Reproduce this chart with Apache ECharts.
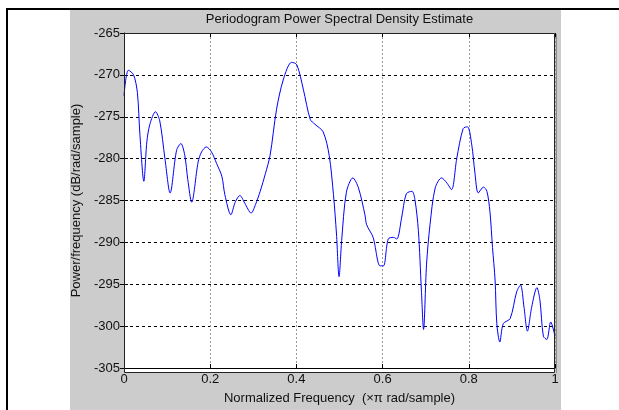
<!DOCTYPE html>
<html>
<head>
<meta charset="utf-8">
<script src="https://cdn.jsdelivr.net/npm/echarts@6/dist/echarts.min.js"></script>
<style>
  html, body { margin: 0; padding: 0; background: #ffffff; }
  #chart { width: 619px; height: 410px; }
</style>
</head>
<body>
<div id="chart"></div>
<script>
// Normalized frequency (x pi rad/sample)
var freq = [
  0.000, 0.010, 0.022, 0.031, 0.037, 0.046, 0.053, 0.060, 0.073, 0.083,
  0.095, 0.107, 0.122, 0.132, 0.141, 0.148, 0.157, 0.172, 0.180, 0.191,
  0.203, 0.215, 0.227, 0.234, 0.248, 0.258, 0.269, 0.280, 0.295, 0.305,
  0.316, 0.328, 0.339, 0.354, 0.370, 0.389, 0.401, 0.416, 0.432, 0.443,
  0.462, 0.476, 0.486, 0.493, 0.499, 0.505, 0.516, 0.531, 0.544, 0.559,
  0.563, 0.578, 0.594, 0.602, 0.613, 0.625, 0.633, 0.644, 0.655, 0.668,
  0.675, 0.683, 0.690, 0.695, 0.702, 0.710, 0.722, 0.737, 0.749, 0.760,
  0.772, 0.787, 0.797, 0.807, 0.814, 0.822, 0.834, 0.842, 0.849, 0.855,
  0.861, 0.865, 0.872, 0.880, 0.896, 0.911, 0.920, 0.928, 0.936, 0.946,
  0.958, 0.965, 0.973, 0.981, 0.990, 1.000
];
// Power/frequency (dB/rad/sample)
var psd = [
  -272.5, -269.45, -269.96, -272.1, -277.2, -282.7, -278.0, -275.9, -274.4, -275.5,
  -280.0, -284.1, -279.0, -278.2, -279.6, -282.5, -285.2, -280.4, -279.2, -278.6,
  -279.2, -280.6, -282.1, -284.3, -286.7, -285.2, -284.4, -285.3, -286.5, -285.5,
  -283.9, -281.8, -279.6, -274.1, -270.5, -268.5, -268.8, -271.7, -275.3, -275.9,
  -276.8, -279.6, -284.3, -289.0, -294.1, -289.8, -284.0, -282.3, -283.5, -286.7,
  -287.9, -289.4, -292.8, -292.8, -289.6, -289.4, -289.6, -287.1, -284.2, -283.9,
  -284.9, -288.6, -295.7, -300.4, -292.6, -287.9, -283.5, -282.3, -282.9, -283.7,
  -280.0, -276.4, -276.2, -278.4, -281.6, -284.1, -283.4, -283.9, -286.3, -290.6,
  -294.5, -299.7, -301.9, -299.7, -299.1, -295.9, -295.1, -297.7, -300.6, -297.7,
  -295.4, -296.9, -301.2, -301.6, -299.5, -301.2
];
var xTicks = [0, 0.2, 0.4, 0.6, 0.8, 1];
var yTicks = [-305, -300, -295, -290, -285, -280, -275, -270, -265];

var titleText = 'Periodogram Power Spectral Density Estimate';
var xName = 'Normalized Frequency  (\u00d7\u03c0 rad/sample)';
var yName = 'Power/frequency (dB/rad/sample)';

var FONT = '"Liberation Sans", Arial, sans-serif';
var points = freq.map(function (f, i) { return [f, psd[i]]; });

var chart = echarts.init(document.getElementById('chart'), null, { renderer: 'canvas' });

// plot box edges in pixels
var PL = 124, PT = 33, PR = 555, PB = 372;

var option = {
  backgroundColor: '#ffffff',
  animation: false,
  grid: { left: PL, top: PT, width: PR - PL, height: PB - PT, containLabel: false },
  graphic: [
    // figure panel
    { type: 'rect', z: -10, silent: true,
      shape: { x: 70, y: 10, width: 491, height: 400 },
      style: { fill: '#cccccc' } },
    // page frame lines
    { type: 'line', z: -5, silent: true,
      shape: { x1: 6, y1: 9, x2: 619, y2: 9 },
      style: { stroke: '#000', lineWidth: 2 } },
    { type: 'line', z: -5, silent: true,
      shape: { x1: 7, y1: 8, x2: 7, y2: 410 },
      style: { stroke: '#000', lineWidth: 2 } },
    // plot area
    { type: 'rect', z: -8, silent: true,
      shape: { x: PL, y: PT, width: PR - PL, height: PB - PT },
      style: { fill: '#ffffff' } },
    // box shadow on the right edge
    { type: 'line', z: 5, silent: true,
      shape: { x1: PR + 1.5, y1: PT + 1, x2: PR + 1.5, y2: PB + 1 },
      style: { stroke: '#8a8a8a', lineWidth: 1 } },
    // box outline
    { type: 'rect', z: 6, silent: true,
      shape: { x: PL + 0.5, y: PT + 0.5, width: PR - PL - 1, height: PB - PT },
      style: { fill: null, stroke: '#222', lineWidth: 1 } },
    // title, centred over the plot box
    { type: 'text', z: 10, silent: true,
      x: (PL + PR) / 2, y: 19,
      style: { text: titleText, font: '13px ' + FONT, fill: '#111',
               textAlign: 'center', textVerticalAlign: 'middle' } }
  ],
  xAxis: [{
    type: 'value', min: 0, max: 1, interval: 0.2,
    name: xName, nameLocation: 'middle', nameGap: 24,
    nameTextStyle: { fontFamily: FONT, fontSize: 13, color: '#111' },
    axisLine: { show: true, onZero: false, lineStyle: { color: '#000', width: 1 } },
    axisTick: { show: true, inside: true, length: 4, lineStyle: { color: '#000' } },
    axisLabel: { fontFamily: FONT, fontSize: 13, color: '#111', margin: 5,
      formatter: function (v) { return xTicks.indexOf(+v.toFixed(1)) >= 0 ? String(+v.toFixed(1)) : ''; } },
    splitLine: { show: true, lineStyle: { color: '#999', type: [2, 2], width: 1 } }
  }, {
    type: 'value', min: 0, max: 1, interval: 0.2, position: 'top',
    axisLine: { show: false },
    axisTick: { show: true, inside: true, length: 4, lineStyle: { color: '#000' } },
    axisLabel: { show: false }, splitLine: { show: false }
  }],
  yAxis: [{
    type: 'value', min: -305, max: -265, interval: 5,
    name: yName, nameLocation: 'middle', nameGap: 39, nameRotate: 90,
    nameTextStyle: { fontFamily: FONT, fontSize: 13, color: '#111' },
    axisLine: { show: true, onZero: false, lineStyle: { color: '#000', width: 1 } },
    axisTick: { show: true, inside: true, length: 4, lineStyle: { color: '#000' } },
    axisLabel: { fontFamily: FONT, fontSize: 13, color: '#111', margin: 4 },
    splitLine: { show: true, lineStyle: { color: '#000', type: [3, 3], width: 1 } }
  }, {
    type: 'value', min: -305, max: -265, interval: 5, position: 'right',
    axisLine: { show: false },
    axisTick: { show: true, inside: true, length: 4, lineStyle: { color: '#000' } },
    axisLabel: { show: false }, splitLine: { show: false }
  }],
  series: [{
    type: 'line',
    data: points,
    xAxisIndex: 0, yAxisIndex: 0,
    smooth: 0.3,
    symbol: 'none',
    clip: true,
    lineStyle: { color: '#0000ff', width: 1 }
  }]
};

chart.setOption(option);
</script>
</body>
</html>
